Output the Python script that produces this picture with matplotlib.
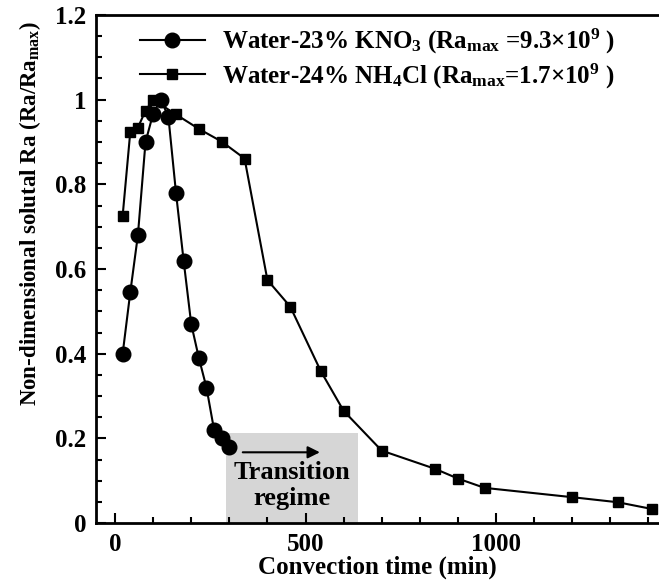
import matplotlib
matplotlib.use("Agg")
import matplotlib.pyplot as plt
from matplotlib.ticker import MultipleLocator

plt.rcParams['font.family'] = 'Liberation Serif'
plt.rcParams['font.weight'] = 'bold'
plt.rcParams['axes.labelweight'] = 'bold'
plt.rcParams['mathtext.fontset'] = 'custom'
plt.rcParams['mathtext.rm'] = 'Liberation Serif:bold'
plt.rcParams['mathtext.it'] = 'Liberation Serif:bold'
plt.rcParams['mathtext.bf'] = 'Liberation Serif:bold'
plt.rcParams['mathtext.default'] = 'rm'

# convection time (min) and Ra/Ra_max for each solution
time_kno3 = [20, 40, 60, 80, 100, 120, 140, 160, 180, 200, 220, 240, 260, 280, 300]
ra_kno3 = [0.40, 0.545, 0.68, 0.90, 0.967, 1.0, 0.96, 0.78, 0.62, 0.47,
           0.39, 0.32, 0.22, 0.20, 0.18]

time_nh4cl = [20, 40, 60, 80, 100, 160, 220, 280, 340, 400, 460, 540, 600,
              700, 840, 900, 970, 1200, 1320, 1410]
ra_nh4cl = [0.726, 0.924, 0.934, 0.974, 1.0, 0.965, 0.931, 0.901, 0.861,
            0.574, 0.511, 0.359, 0.265, 0.171, 0.128, 0.105, 0.083, 0.061,
            0.049, 0.033]

label_kno3 = 'Water-23% KNO$_3$ (Ra$_{max}$ =9.3×10$^9$ )'
label_nh4cl = 'Water-24% NH$_4$Cl (Ra$_{max}$=1.7×10$^9$ )'

transition = (290, 638, 0.213)  # x start, x end, box height

fig = plt.figure(figsize=(6.59, 5.88), dpi=100)
ax = fig.add_axes([96 / 659, 65 / 588, 563 / 659, 508 / 588])

ax.axvspan(transition[0], transition[1], ymin=0, ymax=transition[2] / 1.2,
           color='#d6d6d6', lw=0, zorder=0)

ax.plot(time_kno3, ra_kno3, '-o', color='black', lw=1.5, ms=10.5, label=label_kno3)
ax.plot(time_nh4cl, ra_nh4cl, '-s', color='black', lw=1.5, ms=7.5, label=label_nh4cl)

ax.annotate('', xy=(545, 0.167), xytext=(328, 0.167),
            arrowprops=dict(arrowstyle='-|>', color='black', lw=1.5,
                            mutation_scale=18))
ax.text(464, 0.12, 'Transition', ha='center', va='center', fontsize=19)
ax.text(464, 0.058, 'regime', ha='center', va='center', fontsize=19)

ax.set_xlim(-50, 1428)
ax.set_ylim(0, 1.2)
ax.xaxis.set_major_locator(MultipleLocator(500))
ax.xaxis.set_minor_locator(MultipleLocator(100))
ax.yaxis.set_minor_locator(MultipleLocator(0.05))
ax.set_yticks([0, 0.2, 0.4, 0.6, 0.8, 1.0, 1.2])
ax.set_yticklabels(['0', '0.2', '0.4', '0.6', '0.8', '1', '1.2'])

ax.tick_params(which='both', direction='in', width=1.5, labelsize=18)
ax.tick_params(which='major', length=7, pad=7)
ax.tick_params(which='minor', length=4)
for side in ['left', 'bottom', 'top']:
    ax.spines[side].set_linewidth(2)
ax.spines['right'].set_visible(False)

ax.set_xlabel('Convection time (min)', fontsize=18, labelpad=0)
ax.set_ylabel('Non-dimensional solutal Ra (Ra/Ra$_{max}$)', fontsize=16.5)
ax.yaxis.set_label_coords(-0.095, 0.61)

ax.legend(loc='upper center', bbox_to_anchor=(0.5, 1.02), frameon=False,
          fontsize=18, handlelength=2.6, labelspacing=0.2, handletextpad=0.7)

fig.savefig('out.png', dpi=100)
